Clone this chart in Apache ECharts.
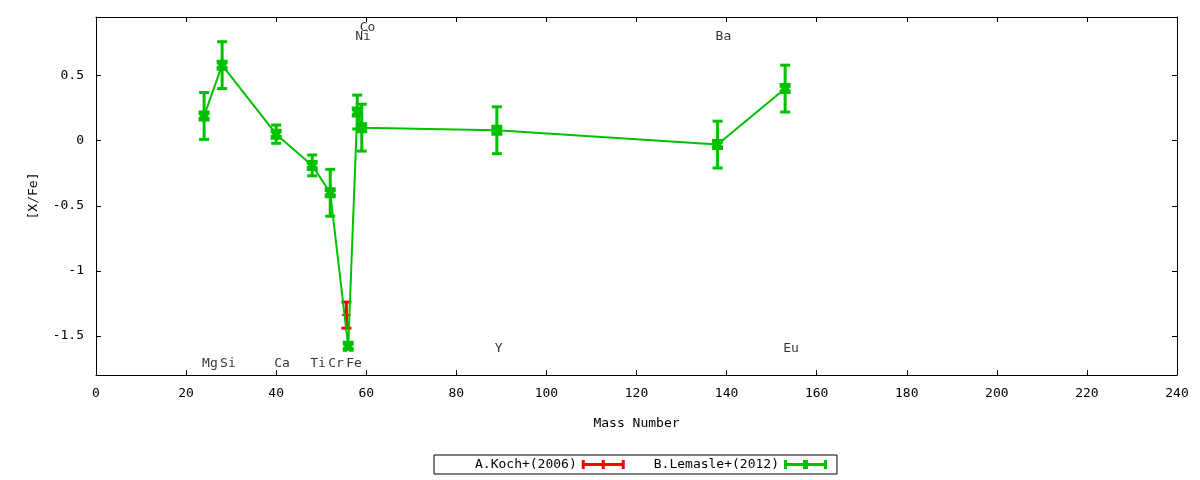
<!DOCTYPE html>
<html>
<head>
<meta charset="utf-8">
<script src="https://cdn.jsdelivr.net/npm/echarts@6/dist/echarts.min.js"></script>
<style>
html, body { margin: 0; padding: 0; background: #fff; }
#main { width: 1200px; height: 480px; }
</style>
</head>
<body>
<div id="main"></div>
<script>
// B.Lemasle+(2012)
var elements = ["Mg", "Si", "Ca", "Ti", "Cr", "Fe", "Ni", "Co", "Y", "Ba", "Eu"];
var massNumber = [24, 28, 40, 48, 52, 56, 58, 59, 89, 138, 153];
var lemasleXFe = [0.19, 0.58, 0.05, -0.19, -0.40, -1.58, 0.22, 0.10, 0.08, -0.03, 0.40];
var lemasleErr = [0.18, 0.18, 0.07, 0.08, 0.18, 0.02, 0.13, 0.18, 0.18, 0.18, 0.18];

// A.Koch+(2006)
var kochMass = [55.6];
var kochXFe = [-1.34];
var kochErr = [0.10];

// element labels (data coordinates of the text)
var labelY = [-1.71, -1.71, -1.71, -1.71, -1.71, -1.71, 0.80, 0.87, -1.60, 0.80, -1.60];

var yTicks = [-1.5, -1, -0.5, 0, 0.5];

var font = "DejaVu Sans Mono";
var green = "#00c000";
var red = "#ff0000";

function toPoints(xs, ys) {
    return xs.map(function (x, i) { return [x, ys[i]]; });
}
function toErr(xs, ys, es) {
    return xs.map(function (x, i) { return [x, ys[i], es[i]]; });
}

// vertical error bar with caps
function renderErrorBar(params, api) {
    var x = api.value(0), y = api.value(1), e = api.value(2);
    var top = api.coord([x, y + e]);
    var bot = api.coord([x, y - e]);
    var half = 5;
    var style = { stroke: api.visual("color"), lineWidth: 3 };
    return {
        type: "group",
        children: [
            { type: "line", shape: { x1: top[0], y1: top[1], x2: bot[0], y2: bot[1] }, style: style },
            { type: "line", shape: { x1: top[0] - half, y1: top[1], x2: top[0] + half, y2: top[1] }, style: style },
            { type: "line", shape: { x1: bot[0] - half, y1: bot[1], x2: bot[0] + half, y2: bot[1] }, style: style }
        ]
    };
}

var greenMark = "path://M0,0H4L5,2L6,0H10V4L8,5L10,6V10H6L5,8L4,10H0V6L2,5L0,4Z";
var plusMark = "path://M3.5,0H5.5V3.5H9V5.5H5.5V9H3.5V5.5H0V3.5H3.5Z";
var legendIconRed = "path://M0,0H3V3H20V0H23V3H40V0H43V9H40V6H23V9H20V6H3V9H0Z";
var legendIconGreen = "path://M0,0H3V3H19V0H24V3H40V0H43V9H40V6H24V9H19V6H3V9H0Z";

var axisCommon = {
    axisLine: { show: true, onZero: false, lineStyle: { color: "#000", width: 1 } },
    axisTick: { show: true, inside: true, length: 5, lineStyle: { color: "#000" } },
    splitLine: { show: false },
    nameTextStyle: { fontFamily: font, fontSize: 13, color: "#000" }
};

var option = {
    animation: false,
    backgroundColor: "#fff",
    grid: { left: 96, right: 23, top: 17, bottom: 105 },
    legend: {
        left: 434,
        top: 455,
        align: "right",
        itemWidth: 43,
        itemHeight: 9,
        itemGap: 29,
        padding: [3, 10, 3, 41],
        borderColor: "#000",
        borderWidth: 1,
        borderRadius: 0,
        textStyle: { fontFamily: font, fontSize: 13, color: "#000" },
        data: [
            { name: "A.Koch+(2006)", icon: legendIconRed },
            { name: "B.Lemasle+(2012)", icon: legendIconGreen }
        ]
    },
    xAxis: [
        Object.assign({}, axisCommon, {
            type: "value",
            position: "bottom",
            min: 0, max: 240, interval: 20,
            name: "Mass Number",
            nameLocation: "middle",
            nameGap: 42,
            axisLabel: { margin: 12, fontFamily: font, fontSize: 13, color: "#000" }
        }),
        Object.assign({}, axisCommon, {
            type: "value",
            position: "top",
            min: 0, max: 240, interval: 20,
            axisLabel: { show: false }
        })
    ],
    yAxis: [
        Object.assign({}, axisCommon, {
            type: "value",
            position: "left",
            min: -1.8, max: 0.95,
            name: "[X/Fe]",
            nameLocation: "middle",
            nameRotate: 90,
            nameGap: 56,
            axisTick: { show: true, inside: true, length: 5, lineStyle: { color: "#000" }, customValues: yTicks },
            axisLabel: { margin: 12, fontFamily: font, fontSize: 13, color: "#000", customValues: yTicks }
        }),
        Object.assign({}, axisCommon, {
            type: "value",
            position: "right",
            min: -1.8, max: 0.95,
            axisTick: { show: true, inside: true, length: 5, lineStyle: { color: "#000" }, customValues: yTicks },
            axisLabel: { show: false, customValues: yTicks }
        })
    ],
    series: [
        {
            name: "A.Koch+(2006)",
            type: "custom",
            renderItem: renderErrorBar,
            itemStyle: { color: red },
            encode: { x: 0, y: 1 },
            data: toErr(kochMass, kochXFe, kochErr),
            z: 2
        },
        {
            name: "A.Koch+(2006)",
            type: "scatter",
            symbol: plusMark,
            symbolSize: 9,
            itemStyle: { color: red },
            data: toPoints(kochMass, kochXFe),
            z: 2
        },
        {
            name: "B.Lemasle+(2012)",
            type: "custom",
            renderItem: renderErrorBar,
            itemStyle: { color: green },
            encode: { x: 0, y: 1 },
            data: toErr(massNumber, lemasleXFe, lemasleErr),
            z: 3
        },
        {
            name: "B.Lemasle+(2012)",
            type: "line",
            symbol: greenMark,
            symbolSize: 11,
            showAllSymbol: true,
            lineStyle: { color: green, width: 2 },
            itemStyle: { color: green },
            data: toPoints(massNumber, lemasleXFe),
            z: 4
        },
        {
            name: "labels",
            type: "scatter",
            symbolSize: 0,
            silent: true,
            data: massNumber.map(function (m, i) { return [m, labelY[i], elements[i]]; }),
            label: {
                show: true,
                position: "right",
                distance: -2,
                formatter: function (p) { return p.value[2]; },
                fontFamily: font,
                fontSize: 13,
                color: "#000"
            },
            z: 5
        }
    ]
};

var chart = echarts.init(document.getElementById("main"));
chart.setOption(option);
</script>
</body>
</html>
